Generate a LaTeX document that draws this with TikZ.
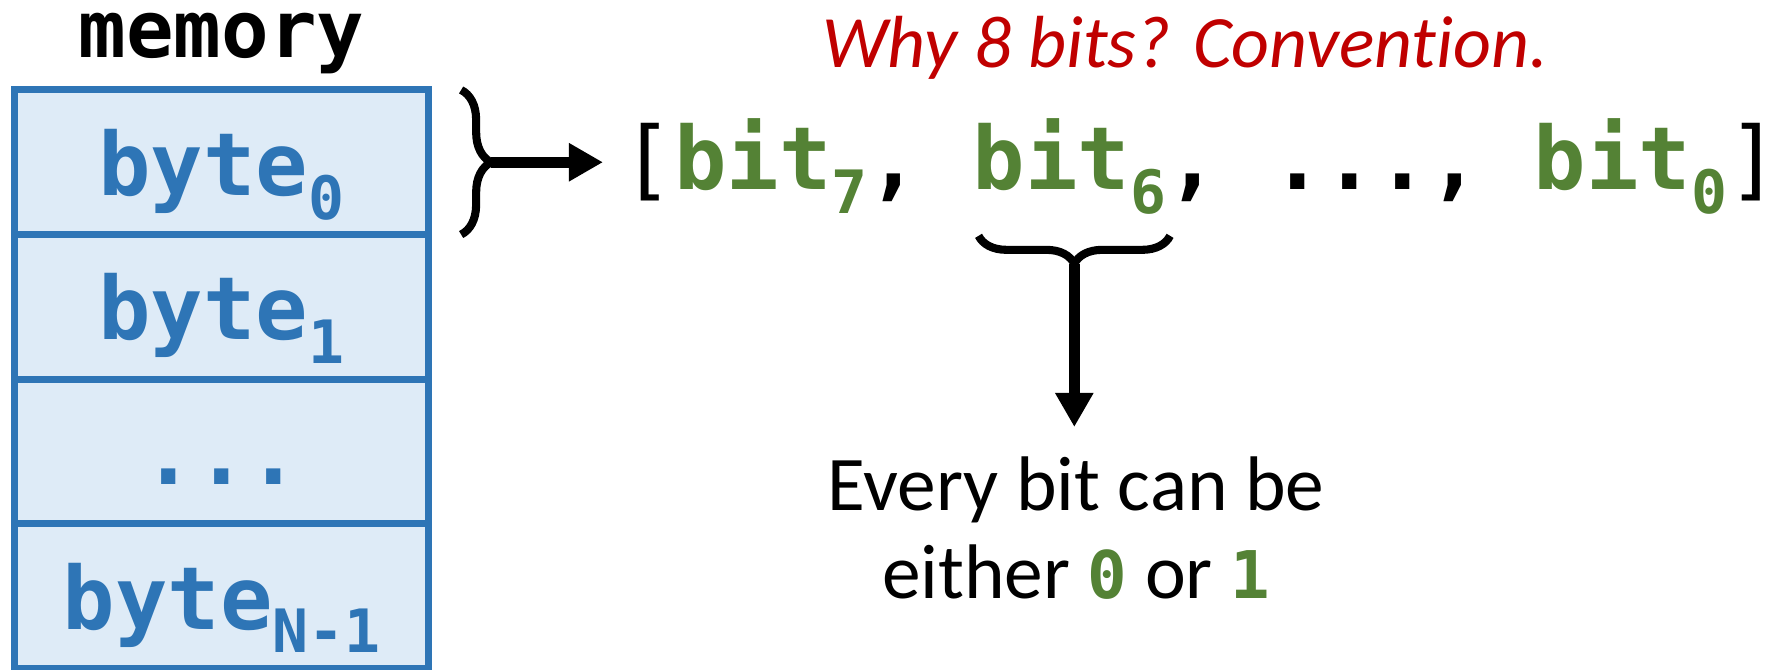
\documentclass[tikz,border=0pt]{standalone}
\usepackage{fontspec}
\setmainfont{Carlito}[Ligatures={TeX,NoCommon}]
\setmonofont{DejaVu Sans Mono}
\usepackage{xcolor}
\usetikzlibrary{positioning,arrows.meta,decorations.pathreplacing}
\definecolor{memBlue}{HTML}{2E75B6}
\definecolor{memFill}{HTML}{DEEBF7}
\definecolor{bitGreen}{HTML}{548235}
\definecolor{noteRed}{HTML}{C00000}
\newcommand{\bigmono}{\ttfamily\bfseries\fontsize{24.8}{26}\selectfont}
\newcommand{\lowsub}[1]{\raisebox{-6.8pt}{\fontsize{17}{17}\selectfont #1}}
\newcommand{\bitname}[1]{\textcolor{bitGreen}{bit\lowsub{#1}}}
\newcommand{\bitval}[1]{{\ttfamily\bfseries\fontsize{18.7}{20}\selectfont\textcolor{bitGreen}{#1}}}
\tikzstyle{cellNode} = [rectangle, draw=memBlue, fill=memFill, line width=2pt, text=memBlue, minimum width=4.13cm, minimum height=1.445cm, text height=0.75cm, text depth=0.09cm, inner sep=0pt, outer sep=0pt, font=\bigmono]
\tikzstyle{bitNode} = [inner sep=0pt, outer sep=0pt, anchor=base west, font=\bigmono]
\tikzstyle{braceLine} = [decorate, line width=2.3pt]
\tikzstyle{thickArrow} = [-{Triangle[length=0.34cm,width=0.36cm]}, line width=3pt]

\begin{document}
\begin{tikzpicture}[x=0.01cm, y=-0.01cm]
            \useasboundingbox (0,0) rectangle (1778,670);
            \node (mem) at (221.5,58) [anchor=base, font=\ttfamily\bfseries\fontsize{22.5}{24}\selectfont] {memory};
            \node (c0) at (221.5,162.25) [cellNode] {byte\lowsub{0}};
            \node (c1) [cellNode, below=0pt of c0] {byte\lowsub{1}};
            \node (c2) [cellNode, below=0pt of c1] {...};
            \node (c3) [cellNode, below=0pt of c2] {byte\lowsub{N-1}};
            \node (lb) at (621.5,190) [bitNode] {\mdseries[};
            \node (b7) [bitNode, base right=0pt of lb] {\bitname{7},};
            \node (b6) [bitNode, base right=0.525cm of b7] {\bitname{6}};
            \node (dots) [bitNode, base right=0pt of b6] {,\ ...,};
            \node (b0) [bitNode, base right=0.525cm of dots] {\bitname{0}};
            \node (rb) [bitNode, base right=0pt of b0] {\mdseries]};
            \node (why) at (1185,68) [anchor=base, text=noteRed, font=\itshape\fontsize{21}{24}\selectfont] {Why 8 bits? Convention.};
            \node (note) at (1076,456) [anchor=north, inner sep=0pt, align=center, font=\fontsize{22}{25}\selectfont] {Every bit can be\\either \bitval{0} or \bitval{1}};
            \draw[braceLine, decoration={brace, amplitude=0.3cm}] ([xshift=0.33cm]c0.north east) -- ([xshift=0.33cm]c0.south east);
            \coordinate (tipL) at ([xshift=0.63cm]c0.east);
            \draw[thickArrow, shorten >=0.185cm] (tipL) -- (tipL -| lb.west);
            \draw[braceLine, decoration={brace, amplitude=0.28cm}] ([xshift=0.04cm,yshift=-0.21cm]b6.south east) -- ([xshift=0.06cm,yshift=-0.21cm]b6.south west);
            \coordinate (tipB) at ([xshift=0.05cm,yshift=-0.49cm]b6.south);
            \draw[thickArrow, shorten >=0.29cm] (tipB) -- (tipB |- note.north);
        \end{tikzpicture}
\end{document}
